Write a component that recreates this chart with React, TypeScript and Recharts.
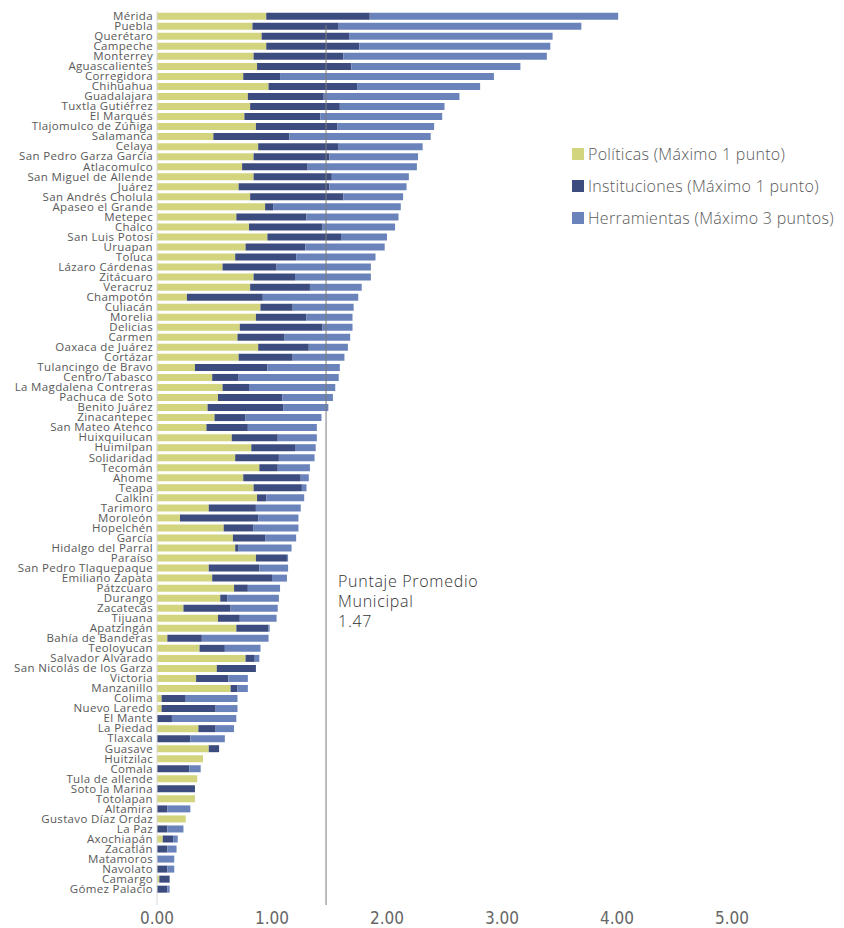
import React from 'react';
import { BarChart, Bar, XAxis, YAxis, ReferenceLine, Legend } from 'recharts';

const municipios = [
  'Mérida', 'Puebla', 'Querétaro', 'Campeche', 'Monterrey', 'Aguascalientes', 'Corregidora', 'Chihuahua', 'Guadalajara',
  'Tuxtla Gutiérrez', 'El Marqués', 'Tlajomulco de Zúñiga', 'Salamanca', 'Celaya', 'San Pedro Garza García', 'Atlacomulco', 'San Miguel de Allende', 'Juárez',
  'San Andrés Cholula', 'Apaseo el Grande', 'Metepec', 'Chalco', 'San Luis Potosí', 'Uruapan', 'Toluca', 'Lázaro Cárdenas', 'Zitácuaro',
  'Veracruz', 'Champotón', 'Culiacán', 'Morelia', 'Delicias', 'Carmen', 'Oaxaca de Juárez', 'Cortázar', 'Tulancingo de Bravo',
  'Centro/Tabasco', 'La Magdalena Contreras', 'Pachuca de Soto', 'Benito Juárez', 'Zinacantepec', 'San Mateo Atenco', 'Huixquilucan', 'Huimilpan', 'Solidaridad',
  'Tecomán', 'Ahome', 'Teapa', 'Calkiní', 'Tarimoro', 'Moroleón', 'Hopelchén', 'García', 'Hidalgo del Parral',
  'Paraíso', 'San Pedro Tlaquepaque', 'Emiliano Zapata', 'Pátzcuaro', 'Durango', 'Zacatecas', 'Tijuana', 'Apatzingán', 'Bahía de Banderas',
  'Teoloyucan', 'Salvador Alvarado', 'San Nicolás de los Garza', 'Victoria', 'Manzanillo', 'Colima', 'Nuevo Laredo', 'El Mante', 'La Piedad',
  'Tlaxcala', 'Guasave', 'Huitzilac', 'Comala', 'Tula de allende', 'Soto la Marina', 'Totolapan', 'Altamira', 'Gustavo Díaz Ordaz',
  'La Paz', 'Axochiapán', 'Zacatlán', 'Matamoros', 'Navolato', 'Camargo', 'Gómez Palacio',
];

const politicas = [
  0.95, 0.83, 0.91, 0.95, 0.84, 0.87, 0.75, 0.97, 0.79,
  0.81, 0.76, 0.86, 0.49, 0.88, 0.84, 0.74, 0.84, 0.71,
  0.81, 0.94, 0.69, 0.80, 0.96, 0.77, 0.68, 0.57, 0.84,
  0.81, 0.26, 0.90, 0.86, 0.72, 0.70, 0.88, 0.71, 0.33,
  0.48, 0.57, 0.53, 0.44, 0.50, 0.43, 0.65, 0.82, 0.68,
  0.89, 0.75, 0.84, 0.87, 0.45, 0.20, 0.58, 0.66, 0.68,
  0.86, 0.45, 0.48, 0.67, 0.55, 0.23, 0.53, 0.69, 0.09,
  0.37, 0.77, 0.52, 0.34, 0.64, 0.04, 0.04, 0, 0.36,
  0, 0.45, 0.40, 0, 0.35, 0, 0.33, 0, 0.25,
  0, 0.05, 0, 0, 0, 0.02, 0,
];

const instituciones = [
  0.90, 0.75, 0.76, 0.81, 0.78, 0.82, 0.32, 0.77, 0.66,
  0.78, 0.66, 0.71, 0.66, 0.70, 0.66, 0.57, 0.68, 0.79,
  0.81, 0.07, 0.61, 0.64, 0.64, 0.52, 0.53, 0.47, 0.36,
  0.52, 0.66, 0.28, 0.44, 0.72, 0.41, 0.44, 0.47, 0.63,
  0.23, 0.23, 0.56, 0.66, 0.27, 0.36, 0.40, 0.38, 0.38,
  0.16, 0.50, 0.42, 0.08, 0.41, 0.68, 0.26, 0.28, 0.03,
  0.27, 0.44, 0.52, 0.12, 0.06, 0.41, 0.19, 0.28, 0.30,
  0.22, 0.08, 0.34, 0.28, 0.06, 0.21, 0.47, 0.13, 0.15,
  0.29, 0.09, 0, 0.28, 0, 0.33, 0, 0.09, 0,
  0.09, 0.09, 0.09, 0, 0.09, 0.09, 0.09,
];

const herramientas = [
  2.16, 2.11, 1.77, 1.66, 1.77, 1.47, 1.86, 1.07, 1.18,
  0.91, 1.06, 0.84, 1.23, 0.73, 0.77, 0.95, 0.67, 0.67,
  0.52, 1.11, 0.80, 0.63, 0.40, 0.69, 0.69, 0.82, 0.66,
  0.45, 0.83, 0.53, 0.40, 0.26, 0.57, 0.34, 0.45, 0.63,
  0.87, 0.75, 0.44, 0.39, 0.66, 0.60, 0.34, 0.18, 0.31,
  0.28, 0.07, 0.04, 0.33, 0.39, 0.35, 0.39, 0.27, 0.46,
  0.01, 0.25, 0.13, 0.28, 0.45, 0.41, 0.32, 0.01, 0.58,
  0.31, 0.04, 0, 0.17, 0.09, 0.45, 0.19, 0.56, 0.16,
  0.30, 0, 0, 0.10, 0, 0, 0, 0.20, 0,
  0.14, 0.04, 0.08, 0.15, 0.06, 0, 0.02,
];

const xTicks = [0, 1, 2, 3, 4, 5];
const promedio = 1.47;
const promedioLabel = ['Puntaje Promedio', 'Municipal', '1.47'];

const series = [
  { key: 'politicas', name: 'Políticas (Máximo 1 punto)', color: '#D3D47E' },
  { key: 'instituciones', name: 'Instituciones (Máximo 1 punto)', color: '#3D4C7E' },
  { key: 'herramientas', name: 'Herramientas (Máximo 3 puntos)', color: '#6A84BB' },
];

const data = municipios.map((m, i) => ({
  municipio: m,
  politicas: politicas[i],
  instituciones: instituciones[i],
  herramientas: herramientas[i],
}));

const FONT_LABEL = '"DejaVu Sans Condensed", "DejaVu Sans", sans-serif';
const FONT_CAT = '"Open Sans", "DejaVu Sans", sans-serif';
const FONT_TEXT = '"Open Sans", Lato, sans-serif';

const LegendContent = () => (
  <div style={{ fontFamily: FONT_TEXT }}>
    {series.map((s) => (
      <div key={s.key} style={{ display: 'flex', alignItems: 'center', height: 32 }}>
        <span style={{ width: 12, height: 12, background: s.color, display: 'inline-block', marginRight: 4 }} />
        <span style={{ fontSize: 16, fontWeight: 300, letterSpacing: 0.3, color: '#5a5a5a', whiteSpace: 'nowrap' }}>{s.name}</span>
      </div>
    ))}
  </div>
);

const YTick = (props: any) => {
  const { x, y, payload } = props;
  return (
    <text
      x={x}
      y={y}
      dy={4}
      textAnchor="end"
      fontSize={11.5}
      letterSpacing={0.35}
      fill="#595959"
      fontFamily={FONT_CAT}
    >
      {payload.value}
    </text>
  );
};

const RefShape = (props: any) => {
  const { x1, y1, x2, y2 } = props;
  const top = Math.min(y1, y2);
  const bottom = Math.max(y1, y2);
  return (
    <g>
      <line x1={x1} x2={x2} y1={top + 14} y2={bottom} stroke="#7a7a7a" strokeWidth={1} />
      <text x={x1 + 12} y={bottom - 318} fontFamily={FONT_TEXT} fontWeight={300} fontSize={16} letterSpacing={0.7} fill="#333">
        {promedioLabel.map((t, i) => (
          <tspan key={i} x={x1 + 12} dy={i === 0 ? 0 : 20} fill="#333">{t}</tspan>
        ))}
      </text>
    </g>
  );
};

export default function App() {
  return (
    <div style={{ width: 836, height: 920 }}>
      <BarChart
        width={836}
        height={920}
        data={data}
        layout="vertical"
        margin={{ top: 3, right: 112, left: 0, bottom: 0 }}
        barCategoryGap="17%"
      >
        <XAxis
          type="number"
          domain={[0, 5]}
          ticks={xTicks}
          tickFormatter={(v: number) => v.toFixed(2)}
          axisLine={false}
          tickLine={false}
          tickSize={5}
          tickMargin={2}
          height={23}
          tick={{ fontSize: 17, fill: '#666', fontFamily: FONT_LABEL }}
        />
        <YAxis
          type="category"
          dataKey="municipio"
          width={149}
          interval={0}
          tickLine={false}
          tickSize={4}
          tickMargin={0}
          axisLine={{ stroke: '#d9d9d9' }}
          padding={{ top: 0, bottom: 11 }}
          tick={YTick}
        />
        {series.map((s) => (
          <Bar
            key={s.key}
            dataKey={s.key}
            name={s.name}
            stackId="a"
            fill={s.color}
            isAnimationActive={false}
          />
        ))}
        <ReferenceLine x={promedio} shape={RefShape} ifOverflow="visible" />
        <Legend
          layout="horizontal"
          verticalAlign="middle"
          align="center"
          content={LegendContent}
          wrapperStyle={{ top: 130, left: 564, width: 272, height: 100 }}
        />
      </BarChart>
    </div>
  );
}
